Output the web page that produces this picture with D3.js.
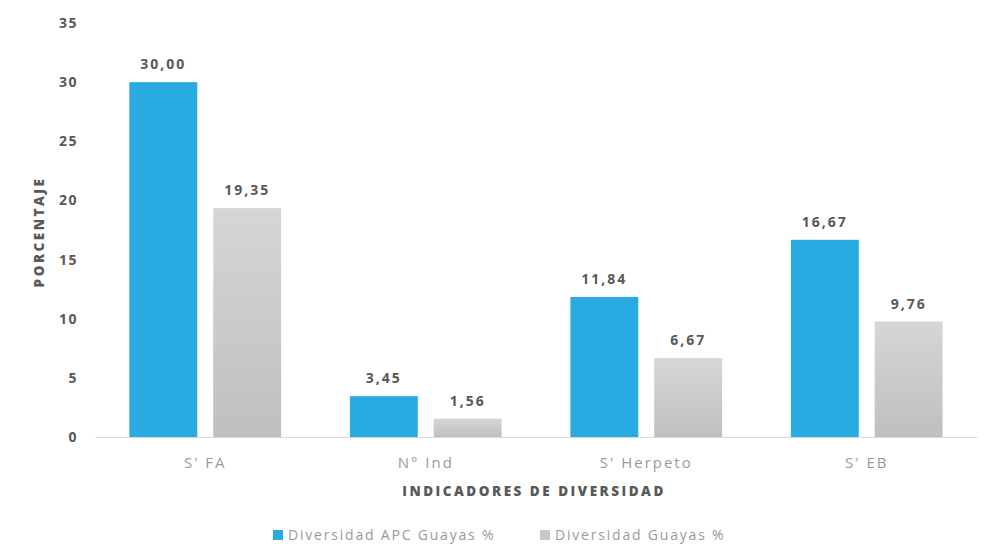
<!DOCTYPE html>
<html>
<head>
<meta charset="utf-8">
<script src="https://cdn.jsdelivr.net/npm/d3@7"></script>
<style>
  html, body { margin: 0; padding: 0; background: #fff; }
  svg { display: block; }
</style>
</head>
<body>
<svg id="chart" width="994" height="559"></svg>
<script>
// Indicator categories and the two series (percent)
const categories = ["S' FA", "N° Ind", "S' Herpeto", "S' EB"];
const apcValues = [30.00, 3.45, 11.84, 16.67];
const guayasValues = [19.35, 1.56, 6.67, 9.76];
const seriesNames = ["Diversidad APC Guayas %", "Diversidad  Guayas %"];
const yTicks = [0, 5, 10, 15, 20, 25, 30, 35];

const svg = d3.select("#chart");
const fontFam = "'Open Sans', 'DejaVu Sans', sans-serif";

const x0 = d3.scaleBand().domain(categories).range([95, 977]).paddingInner(0).paddingOuter(0);
const x1 = d3.scaleBand().domain([0, 1]).range([0, x0.bandwidth()]).paddingInner(0.19).paddingOuter(0.41);
const y = d3.scaleLinear().domain([0, 35]).range([437, 23]);

// Gradient for the grey series
const defs = svg.append("defs");
const grad = defs.append("linearGradient").attr("id", "greyGrad")
  .attr("x1", 0).attr("y1", 0).attr("x2", 0).attr("y2", 1);
grad.append("stop").attr("offset", "0%").attr("stop-color", "#d6d6d6");
grad.append("stop").attr("offset", "100%").attr("stop-color", "#bfbfbf");

const colors = ["#29abe2", "url(#greyGrad)"];
const data = categories.map((c, i) => ({ cat: c, vals: [apcValues[i], guayasValues[i]] }));

// Y axis tick labels (no line)
const yAxis = d3.axisLeft(y).tickValues(yTicks).tickSize(0).tickPadding(0)
  .tickFormat(d3.format("d"));
const yg = svg.append("g").attr("transform", "translate(78,0)").call(yAxis);
yg.select(".domain").remove();
yg.selectAll("text")
  .attr("font-family", fontFam).attr("font-size", 14).attr("font-weight", 700)
  .attr("letter-spacing", 1.5)
  .attr("fill", "#595959");

// Bars
const groups = svg.append("g").selectAll("g").data(data).join("g")
  .attr("transform", d => `translate(${x0(d.cat)},0)`);

groups.selectAll("rect").data(d => d.vals.map((v, k) => ({ v, k }))).join("rect")
  .attr("x", d => x1(d.k))
  .attr("width", x1.bandwidth())
  .attr("y", d => y(d.v))
  .attr("height", d => y(0) - y(d.v))
  .attr("fill", d => colors[d.k]);

// Value labels
groups.selectAll("text.val").data(d => d.vals.map((v, k) => ({ v, k }))).join("text")
  .attr("class", "val")
  .attr("x", d => x1(d.k) + x1.bandwidth() / 2)
  .attr("y", d => y(d.v) - 13)
  .attr("text-anchor", "middle")
  .attr("font-family", fontFam).attr("font-size", 14).attr("font-weight", 700)
  .attr("letter-spacing", 2)
  .attr("fill", "#595959")
  .text(d => d3.format(".2f")(d.v).replace(".", ","));

// X axis baseline and category labels
const xAxis = d3.axisBottom(x0).tickSize(0).tickPadding(20);
const xg = svg.append("g").attr("transform", `translate(0,${y(0)})`).call(xAxis);
xg.select(".domain").attr("stroke", "#d9d9d9").attr("stroke-width", 1);
xg.selectAll("text")
  .attr("font-family", fontFam).attr("font-size", 15).attr("font-weight", 400)
  .attr("letter-spacing", 2)
  .attr("fill", "#9a9a9a");

// Axis titles
svg.append("text")
  .attr("x", 534).attr("y", 496)
  .attr("text-anchor", "middle")
  .attr("font-family", fontFam).attr("font-size", 13.5).attr("font-weight", 800)
  .attr("letter-spacing", 2.5)
  .attr("fill", "#595959")
  .text("INDICADORES DE DIVERSIDAD");

svg.append("text")
  .attr("transform", "translate(44,232) rotate(-90)")
  .attr("text-anchor", "middle")
  .attr("font-family", fontFam).attr("font-size", 13.5).attr("font-weight", 800)
  .attr("letter-spacing", 2.5)
  .attr("fill", "#595959")
  .text("PORCENTAJE");

// Legend
const legendX = [273, 540];
const legend = svg.append("g").selectAll("g").data(seriesNames).join("g")
  .attr("transform", (d, i) => `translate(${legendX[i]},530)`);
legend.append("rect").attr("width", 10).attr("height", 10)
  .attr("fill", (d, i) => i === 0 ? "#29abe2" : "#c8c8c8");
legend.append("text").attr("x", 15).attr("y", 10)
  .attr("font-family", fontFam).attr("font-size", 14)
  .attr("letter-spacing", 1.8)
  .attr("fill", "#9a9a9a")
  .text(d => d);
</script>
</body>
</html>
